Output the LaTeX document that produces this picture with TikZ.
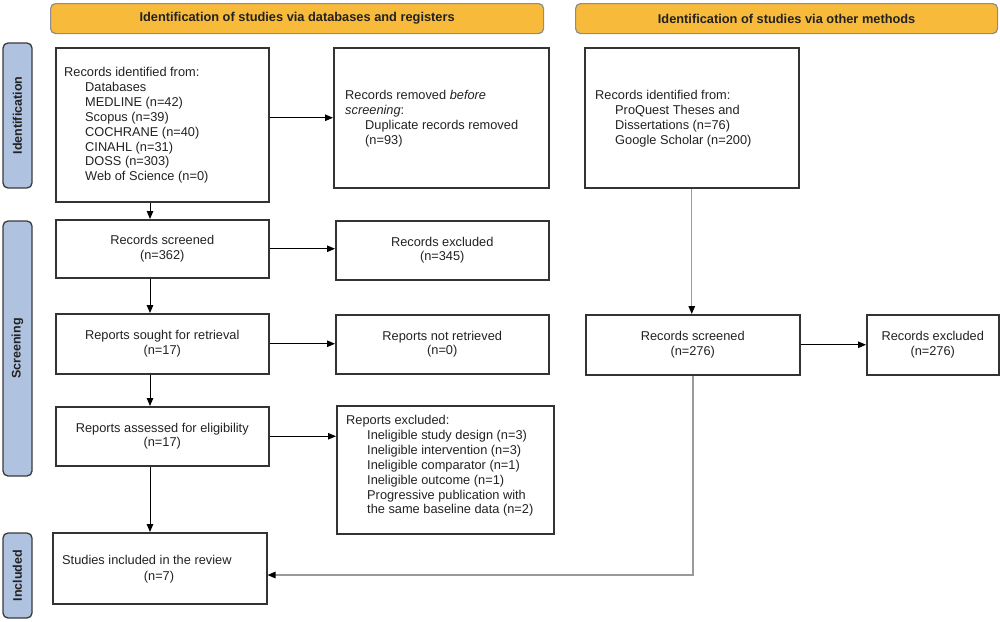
\documentclass[tikz,border=0pt]{standalone}
\usepackage{fontspec}
\setmainfont{Liberation Sans}
\usetikzlibrary{arrows.meta}
\definecolor{boxgray}{HTML}{333333}
\definecolor{headfill}{HTML}{F7BA3B}
\definecolor{headline}{HTML}{8C8C8C}
\definecolor{sidefill}{HTML}{AFC2DF}
\definecolor{sideline}{HTML}{3A3A3A}
\definecolor{linegray}{HTML}{9A9A9A}
\definecolor{txt}{HTML}{222222}
\begin{document}
\begin{tikzpicture}[x=1pt,y=-1pt,
  every node/.style={font=\fontsize{12.8}{14.85}\selectfont, text=txt},
  box/.style={draw=boxgray, line width=1.5pt, fill=white, inner sep=0pt, anchor=north west},
  head/.style={draw=headline, line width=1.2pt, fill=headfill, rounded corners=5pt, inner sep=0pt, anchor=north west, font=\fontsize{12.8}{14.85}\selectfont\bfseries},
  side/.style={draw=sideline, line width=1.3pt, fill=sidefill, rounded corners=5pt, inner sep=0pt, rotate=90, minimum height=29pt, font=\fontsize{12.5}{14}\selectfont\bfseries},
  txtblock/.style={anchor=north west, inner sep=0pt, align=left},
  arr/.style={draw=black, line width=1pt, -{Triangle[length=8pt,width=6.5pt]}},
  garr/.style={draw=linegray, line width=1.3pt, -{Triangle[length=8pt,width=6.5pt,color=black]}},
  gline/.style={draw=linegray, line width=1.3pt}
]
\useasboundingbox (0,0) rectangle (1000,621);

% headers
\node[head, minimum width=493pt, minimum height=30pt] (H1) at (50,3) {Identification of studies via databases and registers};
\node[head, minimum width=422pt, minimum height=30pt] (H2) at (575,3) {Identification of studies via other methods};

% side labels
\node[side, minimum width=145pt] (S1) at (17.5,115.5) {Identification};
\node[side, minimum width=255pt] (S2) at (17.5,348.5) {Screening};
\node[side, minimum width=85pt] (S3) at (17.5,575.5) {Included};

% boxes
\node[box, minimum width=213pt, minimum height=154pt] (A) at (55,47) {};
\node[box, minimum width=215pt, minimum height=140pt] (B) at (333,47) {};
\node[box, minimum width=214pt, minimum height=140pt] (C) at (584,47) {};
\node[box, minimum width=213pt, minimum height=58pt, align=center] (D) at (55,219) {Records screened\\(n=362)};
\node[box, minimum width=213pt, minimum height=59pt, align=center] (E) at (335,220) {Records excluded\\(n=345)};
\node[box, minimum width=213pt, minimum height=60pt, align=center] (F) at (55,313) {Reports sought for retrieval\\(n=17)};
\node[box, minimum width=213pt, minimum height=59pt, align=center] (G) at (335,314) {Reports not retrieved\\(n=0)};
\node[box, minimum width=214pt, minimum height=60pt, align=center] (H) at (585,314) {Records screened\\(n=276)};
\node[box, minimum width=132pt, minimum height=60pt, align=center] (I) at (866,314) {Records excluded\\(n=276)};
\node[box, minimum width=213pt, minimum height=59pt, align=center] (J) at (55,406) {Reports assessed for eligibility\\(n=17)};
\node[box, minimum width=217pt, minimum height=128pt] (K) at (336,405) {};
\node[box, minimum width=214pt, minimum height=71pt] (L) at (52,532) {};

% box texts
\node[txtblock] (At) at (64,67.3) {Records identified from:\\
\hspace*{21pt}Databases\\
\hspace*{21pt}MEDLINE (n=42)\\
\hspace*{21pt}Scopus (n=39)\\
\hspace*{21pt}COCHRANE (n=40)\\
\hspace*{21pt}CINAHL (n=31)\\
\hspace*{21pt}DOSS (n=303)\\
\hspace*{21pt}Web of Science (n=0)};
\node[txtblock] (Bt) at (345,90.3) {Records removed \textit{before}\\
\textit{screening}:\\
\hspace*{20pt}Duplicate records removed\\
\hspace*{20pt}(n=93)};
\node[txtblock] (Ct) at (595,90.3) {Records identified from:\\
\hspace*{20pt}ProQuest Theses and\\
\hspace*{20pt}Dissertations (n=76)\\
\hspace*{20pt}Google Scholar (n=200)};
\node[txtblock] (Kt) at (346,415.3) {Reports excluded:\\
\hspace*{21pt}Ineligible study design (n=3)\\
\hspace*{21pt}Ineligible intervention (n=3)\\
\hspace*{21pt}Ineligible comparator (n=1)\\
\hspace*{21pt}Ineligible outcome (n=1)\\
\hspace*{21pt}Progressive publication with\\
\hspace*{21pt}the same baseline data (n=2)};
\node[anchor=base west, inner sep=0pt] (Lt1) at (62,564.6) {Studies included in the review};
\node[anchor=base, inner sep=0pt] (Lt2) at (159,580.6) {(n=7)};

% connectors
\coordinate (xl) at (150,0);
\draw[arr] (A.east |- B.west) -- (B.west);
\draw[arr] (xl |- A.south) -- (xl |- D.north);
\draw[arr] (D.east) -- (D.east -| E.west);
\draw[arr] (xl |- D.south) -- (xl |- F.north);
\draw[arr] (F.east) -- (F.east -| G.west);
\draw[arr] (xl |- F.south) -- (xl |- J.north);
\draw[arr] (J.east) -- (J.east -| K.west);
\draw[arr] (xl |- J.south) -- (xl |- L.north);
\draw[garr] (C.south) -- (C.south |- H.north);
\draw[arr] (H.east) -- (I.west);
\coordinate (HL) at (693,575);
\draw[garr] (H.south -| HL) -- (HL) -- (HL -| L.east);
\end{tikzpicture}
\end{document}
